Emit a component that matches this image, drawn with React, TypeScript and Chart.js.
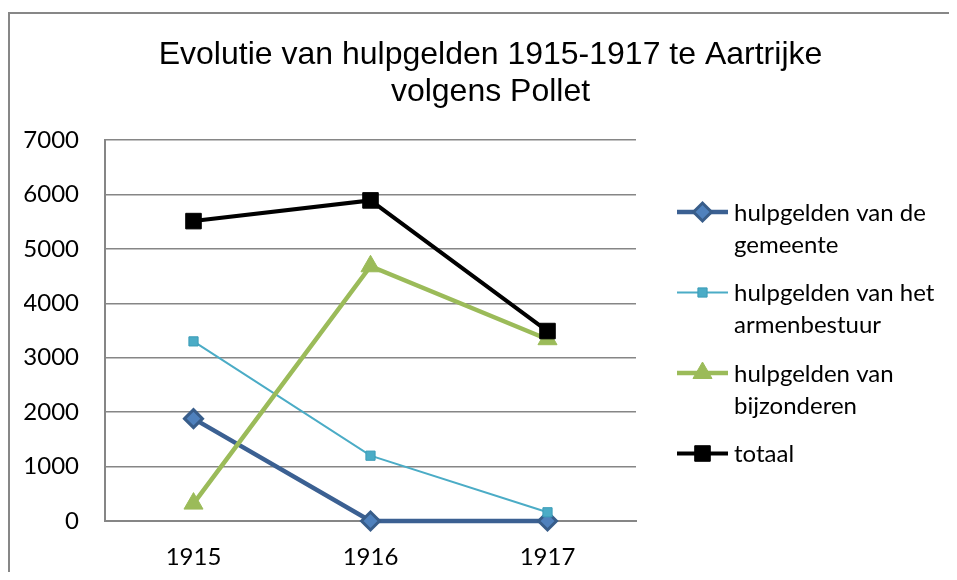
import { useEffect, useRef } from "react";
import { Chart, registerables } from "chart.js";
import { drawPoint } from "chart.js/helpers";

Chart.register(...registerables);

const years = ["1915", "1916", "1917"];
const gemeente = [1880, 0, 0];
const armenbestuur = [3300, 1200, 160];
const bijzonderen = [320, 4680, 3340];
const totaal = [5510, 5890, 3490];
const seriesNames = [
  "hulpgelden van de gemeente",
  "hulpgelden van het armenbestuur",
  "hulpgelden van bijzonderen",
  "totaal",
];
const titleLines = ["Evolutie van hulpgelden 1915-1917 te Aartrijke", "volgens Pollet"];
const yMin = 0;
const yMax = 7000;
const yStep = 1000;

const FONT = "Lato, 'Open Sans', sans-serif";

function wrap(ctx: CanvasRenderingContext2D, text: string, maxWidth: number): string[] {
  const words = text.split(" ");
  const lines: string[] = [];
  let cur = "";
  for (const w of words) {
    const test = cur ? cur + " " + w : w;
    if (cur && ctx.measureText(test).width > maxWidth) {
      lines.push(cur);
      cur = w;
    } else {
      cur = test;
    }
  }
  if (cur) lines.push(cur);
  return lines;
}

const titlePlugin = {
  id: "customTitle",
  afterDraw(chart: any) {
    const ctx = chart.ctx as CanvasRenderingContext2D;
    ctx.save();
    ctx.font = "32px 'Liberation Sans', Arial, sans-serif";
    ctx.fillStyle = "#000";
    ctx.textAlign = "center";
    ctx.textBaseline = "middle";
    const cx = chart.width / 2 + 8;
    titleLines.forEach((l, i) => ctx.fillText(l, cx, 47 + i * 37));
    ctx.restore();
  },
};

const legendPlugin = {
  id: "sideLegend",
  afterDraw(chart: any) {
    const ctx = chart.ctx as CanvasRenderingContext2D;
    const area = chart.chartArea;
    const lx1 = area.right + 41;
    const lx2 = area.right + 92;
    const mx = (lx1 + lx2) / 2;
    const tx = area.right + 98;
    ctx.save();
    chart.data.datasets.forEach((ds: any, i: number) => {
      const y = area.top + 72 + i * 80.5;
      ctx.strokeStyle = ds.borderColor;
      ctx.lineWidth = ds.borderWidth;
      ctx.lineCap = "butt";
      ctx.beginPath();
      ctx.moveTo(lx1, y);
      ctx.lineTo(lx2, y);
      ctx.stroke();
      ctx.fillStyle = ds.pointBackgroundColor;
      ctx.strokeStyle = ds.pointBorderColor;
      ctx.lineWidth = ds.pointBorderWidth;
      drawPoint(
        ctx,
        { pointStyle: ds.pointStyle, radius: ds.pointRadius, borderWidth: ds.pointBorderWidth, rotation: 0 } as any,
        mx,
        y
      );
      ctx.font = `24px ${FONT}`;
      ctx.fillStyle = "#000";
      ctx.textAlign = "left";
      ctx.textBaseline = "middle";
      const lines = wrap(ctx, ds.label, 222);
      lines.forEach((l, j) => ctx.fillText(l, tx, y + 1 + j * 32));
    });
    ctx.restore();
  },
};

export default function App() {
  const ref = useRef<HTMLCanvasElement | null>(null);

  useEffect(() => {
    if (!ref.current) return;
    const tickFont = { family: FONT, size: 24 };
    const chart = new Chart(ref.current, {
      type: "line",
      data: {
        labels: years,
        datasets: [
          {
            label: seriesNames[0],
            data: gemeente,
            borderColor: "#3B6092",
            borderWidth: 4.5,
            pointStyle: "rectRot",
            pointRadius: 9,
            pointBackgroundColor: "#4F81BD",
            pointBorderColor: "#385D8A",
            pointBorderWidth: 3,
            order: 3,
            clip: false,
            tension: 0,
          } as any,
          {
            label: seriesNames[1],
            data: armenbestuur,
            borderColor: "#4BACC6",
            borderWidth: 2,
            pointStyle: "rect",
            pointRadius: 6.5,
            pointBackgroundColor: "#4BACC6",
            pointBorderColor: "#3C9DB8",
            pointBorderWidth: 1,
            order: 2,
            clip: false,
            tension: 0,
          },
          {
            label: seriesNames[2],
            data: bijzonderen,
            borderColor: "#9BBB59",
            borderWidth: 4.5,
            pointStyle: "triangle",
            pointRadius: 11,
            pointBackgroundColor: "#9BBB59",
            pointBorderColor: "#9BBB59",
            pointBorderWidth: 1,
            order: 1,
            clip: false,
            tension: 0,
          },
          {
            label: seriesNames[3],
            data: totaal,
            borderColor: "#000000",
            borderWidth: 4,
            pointStyle: "rect",
            pointRadius: 11,
            pointBackgroundColor: "#000000",
            pointBorderColor: "#000000",
            pointBorderWidth: 1,
            order: 0,
            clip: false,
            tension: 0,
          },
        ],
      },
      options: {
        responsive: false,
        animation: false,
        devicePixelRatio: 1,
        layout: { padding: { left: 16, right: 321, top: 132, bottom: 0 } },
        plugins: {
          legend: { display: false },
          title: { display: false },
          tooltip: { enabled: false },
        },
        scales: {
          x: {
            offset: true,
            grid: { display: false, drawTicks: false, offset: true },
            border: { display: true, color: "#868686", width: 2 },
            ticks: { font: tickFont, color: "#000", padding: 22 },
            afterFit(s: any) {
              s.height = 51;
            },
          },
          y: {
            min: yMin,
            max: yMax,
            ticks: {
              stepSize: yStep,
              font: tickFont,
              color: "#000",
              padding: 26,
              callback: (v: any) => String(v),
            },
            grid: { color: "#868686", lineWidth: 1.5, drawTicks: false },
            border: { display: true, color: "#868686", width: 2 },
            afterFit(s: any) {
              s.width = 81;
            },
          },
        },
      },
      plugins: [titlePlugin, legendPlugin],
    });
    return () => chart.destroy();
  }, []);

  return (
    <div style={{ position: "relative", width: 949, height: 564 }}>
      <div
        style={{
          position: "absolute",
          top: 4,
          left: 0,
          width: 949,
          height: 560,
          borderTop: "2px solid #878787",
          borderLeft: "2px solid #878787",
          boxSizing: "border-box",
        }}
      />
      <canvas
        ref={ref}
        width={949}
        height={564}
        style={{ position: "absolute", top: 0, left: 0, display: "block" }}
      />
    </div>
  );
}
